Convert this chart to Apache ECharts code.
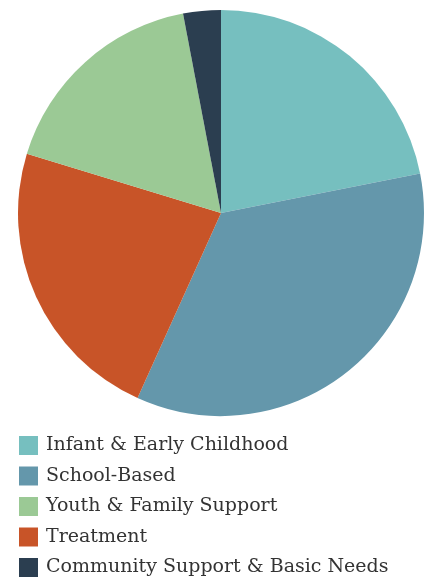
<!DOCTYPE html>
<html><head><meta charset="utf-8">
<script src="https://cdn.jsdelivr.net/npm/echarts@6/dist/echarts.min.js"></script>
<style>html,body{margin:0;padding:0;background:#fff}#c{width:432px;height:577px}</style>
</head><body><div id="c"></div>
<script>
const categories = ["Infant & Early Childhood","School-Based","Treatment","Youth & Family Support","Community Support & Basic Needs"];
const values = [21.9, 34.9, 23.0, 17.3, 3.0];
const colors = ["#76BFBF","#6497AB","#C85428","#9BC995","#2B3E50"];
const legendOrder = ["Infant & Early Childhood","School-Based","Youth & Family Support","Treatment","Community Support & Basic Needs"];
const chart = echarts.init(document.getElementById('c'));
chart.setOption({
  animation:false,
  legend:{
    orient:'vertical', left:14, top:431, height:200, itemWidth:19, itemHeight:19, itemGap:11.5,
    icon:'rect', data:legendOrder,
    textStyle:{fontFamily:'DejaVu Serif', fontSize:19, color:'#333', padding:[0,0,0,3]}
  },
  series:[{
    type:'pie', center:[221,213], radius:[0,203], startAngle:90, clockwise:true,
    label:{show:false}, labelLine:{show:false}, silent:true,
    itemStyle:{borderWidth:0},
    data: categories.map((n,i)=>({name:n, value:values[i], itemStyle:{color:colors[i]}}))
  }]
});
</script></body></html>
